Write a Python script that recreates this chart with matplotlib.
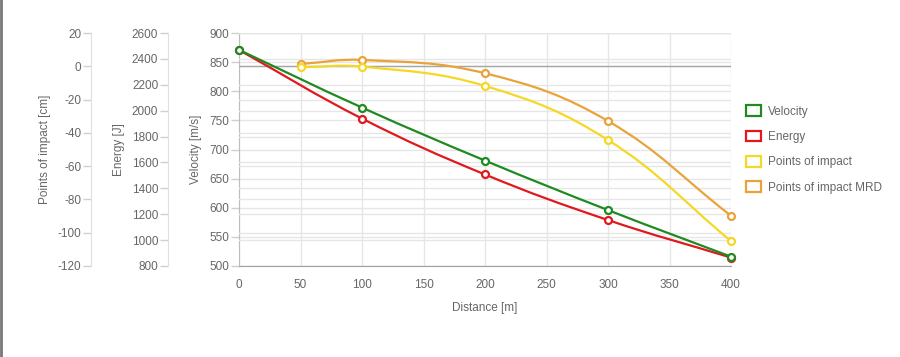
import matplotlib
matplotlib.use('Agg')
import matplotlib.pyplot as plt
from matplotlib.path import Path
from matplotlib.patches import PathPatch, Patch
from matplotlib.lines import Line2D
import numpy as np

plt.rcParams['font.family'] = ['Liberation Sans', 'DejaVu Sans']
plt.rcParams['axes.unicode_minus'] = False

# data
distance = [0, 100, 200, 300, 400]
velocity = [871, 772, 681, 596, 516]
energy = [2469, 1939, 1507, 1155, 865]

impact_dist = [50, 100, 200, 300, 400]
impact = [-0.6, -0.2, -11.8, -44.3, -105]
impact_mrd = [1.4, 3.8, -4.2, -32.9, -89.8]

series_names = ['Velocity', 'Energy', 'Points of impact', 'Points of impact MRD']
colors = ['#1f8a1f', '#e0191e', '#f5d826', '#e9a33a']

GRID = '#e6e6e6'
TXT = '#666666'


def spline_path(ax, xs, ys, tension=0.4):
    # chart.js style bezier, computed in pixels, mapped back to data
    pts = ax.transData.transform(np.column_stack([xs, ys]))
    n = len(pts)
    cps = []
    for i in range(n):
        prev = pts[max(i - 1, 0)]
        cur = pts[i]
        nxt = pts[min(i + 1, n - 1)]
        d01 = np.hypot(*(cur - prev))
        d12 = np.hypot(*(nxt - cur))
        tot = d01 + d12
        s01 = d01 / tot if tot else 0
        s12 = d12 / tot if tot else 0
        fa = tension * s01
        fb = tension * s12
        cps.append((cur - fa * (nxt - prev), cur + fb * (nxt - prev)))
    verts = [pts[0]]
    codes = [Path.MOVETO]
    for i in range(1, n):
        verts += [cps[i - 1][1], cps[i][0], pts[i]]
        codes += [Path.CURVE4] * 3
    verts = ax.transData.inverted().transform(np.array(verts))
    return Path(verts, codes)


fig = plt.figure(figsize=(9, 3.57), dpi=100)
rect = [239 / 900, 91 / 357, 492 / 900, 233 / 357]
ax = fig.add_axes(rect)
ax2 = ax.twinx()
ax3 = ax.twinx()

ax.set_xlim(0, 400)
ax.set_ylim(500, 900)
ax2.set_ylim(800, 2600)
ax3.set_ylim(-120, 20)

ax.set_xticks(np.arange(0, 401, 50))
ax.set_yticks(np.arange(500, 901, 50))
ax2.set_yticks(np.arange(800, 2601, 200))
ax3.set_yticks(np.arange(-120, 21, 20))

for a, off in [(ax2, -71 / 492), (ax3, -148 / 492)]:
    a.yaxis.tick_left()
    a.yaxis.set_label_position('left')
    a.spines['left'].set_position(('axes', off))
    a.spines['left'].set_color('#e0e0e0')
    for s in ['right', 'top', 'bottom']:
        a.spines[s].set_visible(False)
    a.patch.set_visible(False)

for s in ['right', 'top']:
    ax.spines[s].set_visible(False)
ax.spines['left'].set_color('#bdbdbd')
ax.spines['bottom'].set_color('#a0a0a0')

for a in [ax, ax2, ax3]:
    a.tick_params(axis='both', colors='#d0d0d0', labelcolor=TXT, labelsize=8.5,
                  length=6, width=1)
    a.grid(axis='y', color=GRID, linewidth=1)
    a.set_axisbelow(True)
ax.grid(axis='x', color=GRID, linewidth=1)
ax.tick_params(axis='x', length=0, pad=9)
for a in [ax, ax2, ax3]:
    a.tick_params(axis='y', pad=1)

ax3.axhline(0, color='#a6a6a6', linewidth=1, zorder=1)

ax.set_xlabel('Distance [m]', color=TXT, fontsize=8.5, labelpad=8)
ax.set_ylabel('Velocity [m/s]', color=TXT, fontsize=8.5, labelpad=5)
ax2.set_ylabel('Energy [J]', color=TXT, fontsize=8.5, labelpad=5)
ax3.set_ylabel('Points of impact [cm]', color=TXT, fontsize=8.5, labelpad=5)

series = [(ax, distance, velocity), (ax2, distance, energy),
          (ax3, impact_dist, impact), (ax3, impact_dist, impact_mrd)]
# draw everything on the top axes so no grid overlaps the lines
for k, ((a, xs, ys), c) in enumerate(zip(series, colors)):
    z = 5 + (3 - k)
    p = PathPatch(spline_path(a, xs, ys), transform=a.transData, facecolor='none',
                  edgecolor=c, linewidth=1.6, zorder=z)
    p.set_clip_on(False)
    ax3.add_patch(p)
    ax3.plot(xs, ys, linestyle='none', marker='o', markersize=5, markerfacecolor='white',
             markeredgecolor=c, markeredgewidth=1.6, transform=a.transData, zorder=z + 0.5,
             clip_on=False)

handles = [Patch(facecolor='white', edgecolor=c, linewidth=1.6) for c in colors]
leg = fig.legend(handles, series_names, loc='center left', bbox_to_anchor=(741 / 900, 1 - 149.5 / 357),
                 frameon=False, fontsize=8.5, handlelength=1.3, handleheight=1.0,
                 handletextpad=0.6, labelspacing=1.1, borderaxespad=0)
for t in leg.get_texts():
    t.set_color(TXT)

fig.add_artist(Line2D([0.001, 0.001], [0, 1], transform=fig.transFigure, color='#777777', linewidth=2))

fig.savefig('out.png', dpi=100)
